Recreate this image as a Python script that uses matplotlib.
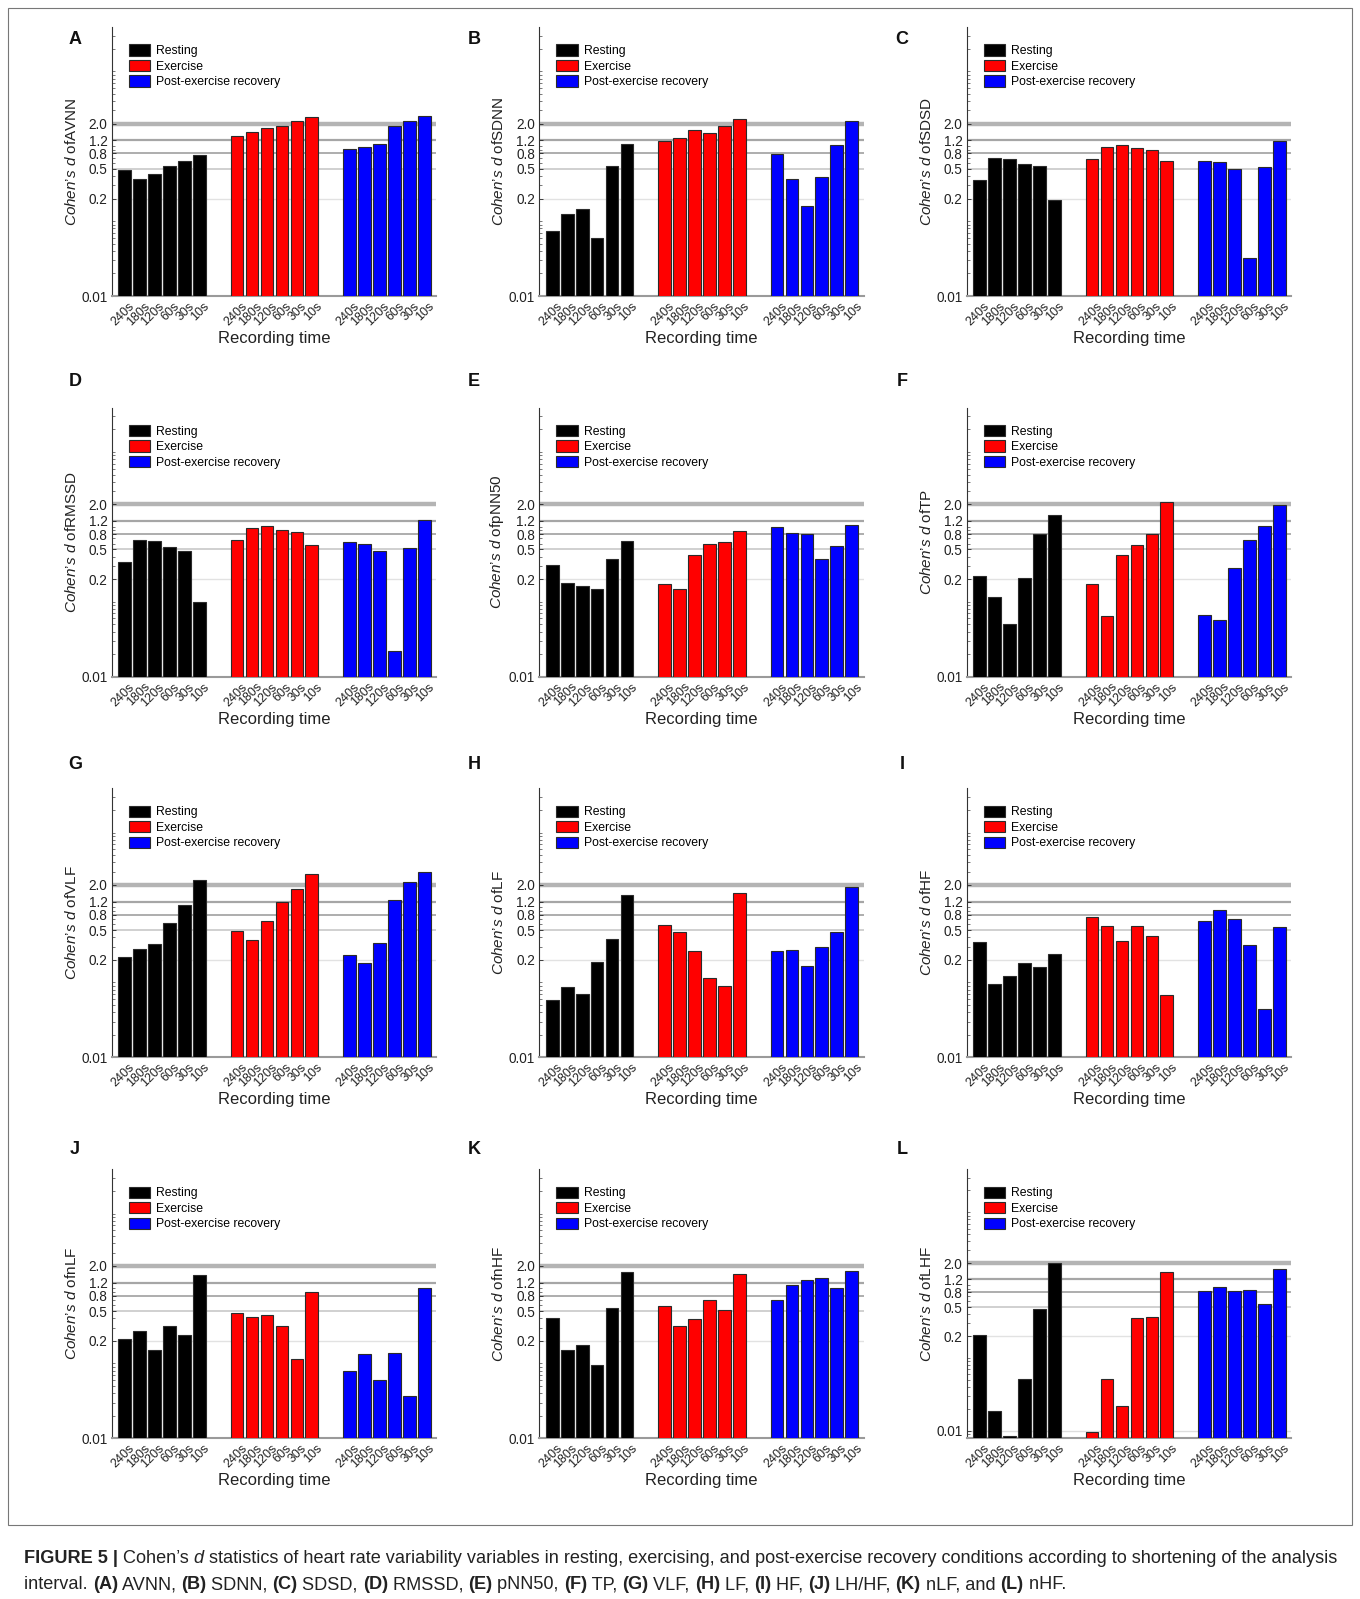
import numpy as np
import matplotlib
matplotlib.use("Agg")
import matplotlib.pyplot as plt
import matplotlib.transforms as mtransforms
from matplotlib.ticker import FixedLocator, LogLocator, NullFormatter
from matplotlib.patches import Rectangle
from matplotlib.offsetbox import TextArea, HPacker, AnchoredOffsetbox

plt.rcParams['font.family'] = ['Liberation Sans', 'DejaVu Sans']
plt.rcParams['mathtext.fontset'] = 'custom'
plt.rcParams['mathtext.rm'] = 'Liberation Sans'
plt.rcParams['mathtext.it'] = 'Liberation Sans:italic'

# recording windows and conditions
times = ["240s", "180s", "120s", "60s", "30s", "10s"]
conditions = ["Resting", "Exercise", "Post-exercise recovery"]
colors = ["#000000", "#ff0000", "#0000ff"]
letters = list("ABCDEFGHIJKL")
variables = ["AVNN", "SDNN", "SDSD", "RMSSD", "pNN50", "TP",
             "VLF", "LF", "HF", "nLF", "nHF", "LHF"]

# Cohen's d per variable, one value per recording window
resting = {
    "AVNN":  [0.48, 0.37, 0.43, 0.55, 0.63, 0.77],
    "SDNN":  [0.073, 0.125, 0.144, 0.060, 0.54, 1.06],
    "SDSD":  [0.355, 0.70, 0.68, 0.58, 0.55, 0.192],
    "RMSSD": [0.34, 0.67, 0.64, 0.535, 0.48, 0.099],
    "pNN50": [0.314, 0.177, 0.163, 0.149, 0.377, 0.656],
    "TP":    [0.224, 0.115, 0.050, 0.206, 0.804, 1.43],
    "VLF":   [0.219, 0.277, 0.330, 0.617, 1.09, 2.33],
    "LF":    [0.059, 0.087, 0.070, 0.190, 0.377, 1.49],
    "HF":    [0.351, 0.096, 0.122, 0.179, 0.161, 0.236],
    "nLF":   [0.21, 0.272, 0.150, 0.32, 0.243, 1.52],
    "nHF":   [0.405, 0.152, 0.175, 0.096, 0.546, 1.68],
    "LHF":   [0.21, 0.0186, 0.0085, 0.052, 0.468, 2.04],
}
exercise = {
    "AVNN":  [1.38, 1.56, 1.73, 1.84, 2.17, 2.43],
    "SDNN":  [1.19, 1.30, 1.63, 1.52, 1.86, 2.33],
    "SDSD":  [0.68, 0.98, 1.04, 0.95, 0.89, 0.63],
    "RMSSD": [0.66, 0.96, 1.02, 0.92, 0.855, 0.574],
    "pNN50": [0.175, 0.150, 0.418, 0.586, 0.629, 0.873],
    "TP":    [0.172, 0.065, 0.418, 0.58, 0.804, 2.13],
    "VLF":   [0.482, 0.366, 0.669, 1.17, 1.79, 2.78],
    "LF":    [0.592, 0.468, 0.261, 0.114, 0.090, 1.58],
    "HF":    [0.749, 0.574, 0.358, 0.568, 0.414, 0.068],
    "nLF":   [0.472, 0.418, 0.444, 0.317, 0.115, 0.91],
    "nHF":   [0.586, 0.317, 0.393, 0.711, 0.518, 1.56],
    "LHF":   [0.0097, 0.052, 0.022, 0.352, 0.367, 1.54],
}
recovery = {
    "AVNN":  [0.92, 0.99, 1.08, 1.84, 2.17, 2.56],
    "SDNN":  [0.79, 0.37, 0.158, 0.39, 1.03, 2.19],
    "SDSD":  [0.64, 0.61, 0.49, 0.032, 0.52, 1.17],
    "RMSSD": [0.63, 0.60, 0.48, 0.022, 0.53, 1.22],
    "pNN50": [1.0, 0.82, 0.796, 0.377, 0.551, 1.07],
    "TP":    [0.066, 0.057, 0.286, 0.669, 1.02, 1.98],
    "VLF":   [0.233, 0.184, 0.334, 1.25, 2.17, 2.95],
    "LF":    [0.261, 0.272, 0.163, 0.301, 0.472, 1.88],
    "HF":    [0.656, 0.92, 0.711, 0.320, 0.044, 0.551],
    "nLF":   [0.079, 0.134, 0.060, 0.138, 0.037, 1.01],
    "nHF":   [0.704, 1.12, 1.30, 1.37, 1.01, 1.73],
    "LHF":   [0.843, 0.937, 0.826, 0.861, 0.553, 1.69],
}

ytick_vals = [0.01, 0.2, 0.5, 0.8, 1.2, 2.0]
ytick_labels = ["0.01", "0.2", "0.5", "0.8", "1.2", "2.0"]

# reference lines: (value, colour, width)
ref_lines = [
    (0.01, "#dddddd", 1.0),
    (0.2, "#e2e2e2", 1.0),
    (0.5, "#c8c8c8", 1.2),
    (0.8, "#a0a0a0", 1.2),
    (1.2, "#a6a6a6", 1.6),
    (2.0, "#b4b4b4", 3.2),
]

# layout in pixels
W, H = 1360, 1599
col_left = [111.7, 539.3, 966.7]
row_bottom = [296, 676.7, 1057.3, 1438.3]
AX_W, AX_H = 324.5, 269
letter_x = [75, 474, 902]
letter_y = [39, 382, 765, 1149]

fig = plt.figure(figsize=(W / 100, H / 100), dpi=100)
# nudge rotated time labels a few pixels to the right of the bar centres
label_shift = mtransforms.ScaledTranslation(4 / 100, 0, fig.dpi_scale_trans)

for i, var in enumerate(variables):
    r, c = divmod(i, 3)
    ax = fig.add_axes([col_left[c] / W, 1 - row_bottom[r] / H, AX_W / W, AX_H / H])
    ax.set_yscale('log')

    series = [resting[var], exercise[var], recovery[var]]
    xpos = []
    for g, (vals, color) in enumerate(zip(series, colors)):
        x = g * 7.5 + np.arange(len(times))
        xpos.extend(x)
        ax.bar(x, vals, width=0.85, color=color, edgecolor="#2b2b2b",
               linewidth=0.8, label=conditions[g], zorder=3)

    for v, lc, lw in ref_lines:
        ax.axhline(v, color=lc, lw=lw, zorder=1)

    lowest = min(min(s) for s in series)
    ax.set_ylim(min(0.01, lowest * 0.93), 39)
    ax.set_xlim(-0.86, 20.8)

    ax.yaxis.set_major_locator(FixedLocator(ytick_vals))
    ax.set_yticklabels(ytick_labels)
    ax.yaxis.set_minor_locator(LogLocator(base=10, subs=np.arange(1, 10), numticks=30))
    ax.yaxis.set_minor_formatter(NullFormatter())
    ax.tick_params(axis='y', which='major', direction='in', length=3, width=0.6,
                   labelsize=9.8, pad=3, colors="#222222")
    ax.tick_params(axis='y', which='minor', direction='in', length=2, width=0.5,
                   color="#444444")

    ax.set_xticks(xpos)
    ax.set_xticklabels(times * 3, rotation=45, ha='right', va='top',
                       rotation_mode='anchor', fontsize=9, color="#222222")
    ax.tick_params(axis='x', length=0, pad=3)
    for lbl in ax.get_xticklabels():
        lbl.set_transform(lbl.get_transform() + label_shift)

    for s in ("top", "right"):
        ax.spines[s].set_visible(False)
    ax.spines["left"].set_color("#333333")
    ax.spines["left"].set_linewidth(0.8)
    ax.spines["bottom"].set_color("#9a9a9a")
    ax.spines["bottom"].set_linewidth(1.5)

    ax.set_xlabel("Recording time", fontsize=12, color="#222222")
    ax.xaxis.set_label_coords(0.5, -0.13)
    ax.set_ylabel(r"$\mathit{Cohen’s\ d}$ of" + var, fontsize=11, color="#222222")
    ax.yaxis.set_label_coords(-33 / AX_W, 0.5)

    ax.legend(loc='upper left', bbox_to_anchor=(0.053, 0.936), frameon=False,
              fontsize=8.8, handlelength=1.75, handleheight=1.05, handletextpad=0.5,
              labelspacing=0.22, borderpad=0, borderaxespad=0)

    fig.text(letter_x[c] / W, 1 - letter_y[r] / H, letters[i], fontsize=13,
             fontweight='bold', ha='center', va='center', color="#111111")

# frame around the panels
fig.add_artist(Rectangle((8 / W, 1 - 1525 / H), (1352 - 8) / W, (1525 - 8) / H,
                         transform=fig.transFigure, fill=False, ec="#777777", lw=0.8))

# caption with mixed weights
cap_size = 13.05
normal = dict(fontsize=cap_size, color="#222222")
bold = dict(fontsize=cap_size, color="#222222", fontweight='bold')
italic = dict(fontsize=cap_size, color="#222222", fontstyle='italic')

line1 = [("FIGURE 5 |", bold), (" Cohen’s ", normal), ("d", italic),
         (" statistics of heart rate variability variables in resting, exercising, "
          "and post-exercise recovery conditions according to shortening of the analysis",
          normal)]
line2 = [("interval. ", normal)]
caption_items = [("A", "AVNN, "), ("B", "SDNN, "), ("C", "SDSD, "), ("D", "RMSSD, "),
                 ("E", "pNN50, "), ("F", "TP, "), ("G", "VLF, "), ("H", "LF, "),
                 ("I", "HF, "), ("J", "LH/HF, "), ("K", "nLF, and "), ("L", "nHF.")]
for lab, txt in caption_items:
    line2.append(("(" + lab + ")", bold))
    line2.append((" " + txt, normal))

for parts, ytop in ((line1, 1550), (line2, 1576)):
    pack = HPacker(children=[TextArea(t, textprops=p) for t, p in parts],
                   align='baseline', pad=0, sep=0)
    box = AnchoredOffsetbox(loc='upper left', child=pack, pad=0, borderpad=0,
                            frameon=False, bbox_to_anchor=(24 / W, 1 - ytop / H),
                            bbox_transform=fig.transFigure)
    fig.add_artist(box)

fig.savefig("out.png", dpi=100)
